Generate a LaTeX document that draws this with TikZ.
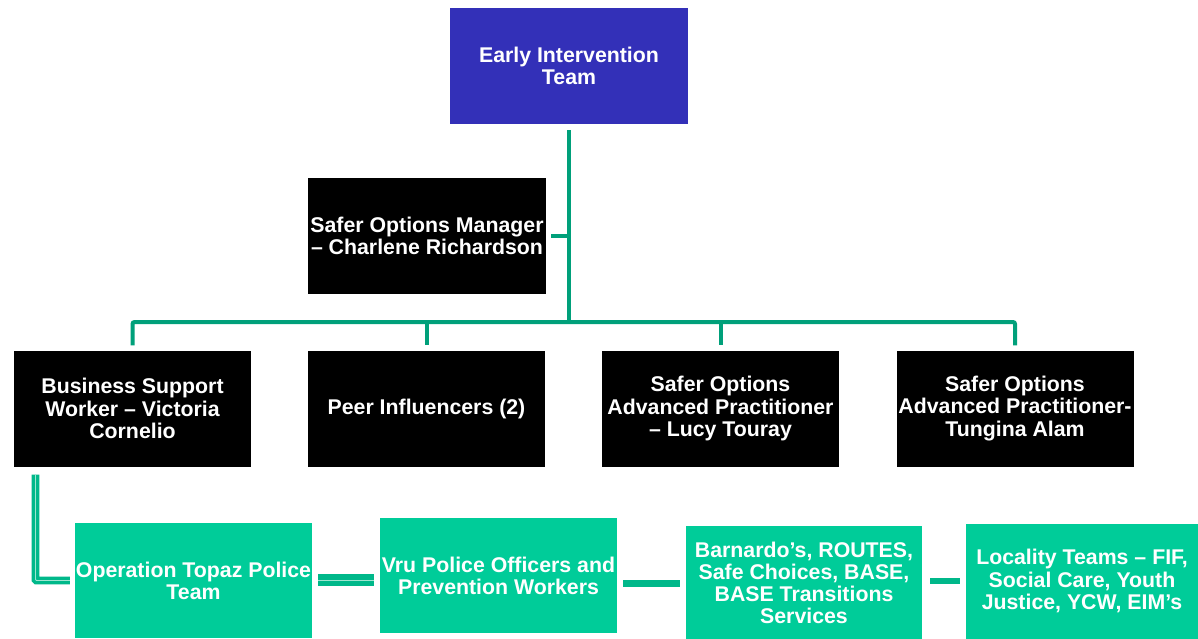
\documentclass[tikz,border=0pt]{standalone}
\usepackage{fontspec}
\setmainfont{Liberation Sans}
\usetikzlibrary{calc}
\definecolor{headblue}{HTML}{3330B8}
\definecolor{linkgreen}{HTML}{00A07A}
\definecolor{teamgreen}{HTML}{00CC99}
\definecolor{teamlink}{HTML}{00B88A}
\definecolor{teamlinklight}{HTML}{9FE6D0}
\tikzset{
  box/.style={minimum width=238pt, minimum height=116pt, inner sep=0pt,
    align=center, text=white,
    font=\fontsize{21.3}{22.2}\selectfont\bfseries},
  headbox/.style={box, fill=headblue},
  staffbox/.style={box, fill=black},
  teambox/.style={box, fill=teamgreen, minimum width=237pt, minimum height=115pt},
  conn/.style={draw=linkgreen, line width=4pt},
  teamconn/.style={draw=teamlink, line width=7pt},
  teamdouble/.style={draw=teamlink, line width=6pt, double=teamlinklight, double distance=0.8pt},
}
\begin{document}
\begin{tikzpicture}[x=1pt, y=-1pt]
\clip (0,0) rectangle (1198,638);
\fill[white] (0,0) rectangle (1198,638);

% management
\node[headbox]  (top) at (569,66)  {Early Intervention\\Team};
\node[staffbox] (mgr) at (427,236) {Safer Options Manager\\– Charlene Richardson};

% practitioners
\node[staffbox, minimum width=237pt] (bs)   at (132.5,408.5) {Business Support\\Worker – Victoria\\Cornelio};
\node[staffbox, minimum width=237pt] (peer) at (426.5,408.5) {Peer Influencers (2)};
\node[staffbox, minimum width=237pt] (ap1)  at (720.5,408.5) {Safer Options\\Advanced Practitioner\\– Lucy Touray};
\node[staffbox, minimum width=237pt] (ap2)  at (1015,408.5)  {Safer Options\\Advanced Practitioner-\\Tungina Alam};

% partner teams
\node[teambox] (topaz) at (193.5,580.5) {Operation Topaz Police\\Team};
\node[teambox] (vru)   at (498.5,575.5) {Vru Police Officers and\\Prevention Workers};
\node[teambox, minimum width=236pt, minimum height=114pt] (barn) at (804,583) {Barnardo’s, ROUTES,\\Safe Choices, BASE,\\BASE Transitions\\Services};
\node[teambox, minimum width=232pt] (loc) at (1082,581) {Locality Teams – FIF,\\Social Care, Youth\\Justice, YCW, EIM’s};

% reporting lines
\coordinate (trunk) at (569,322);
\draw[conn, shorten <=6pt] (top.south) -- (trunk);
\draw[conn, shorten <=5pt] (mgr.east) -- (mgr.east -| top.south);
\draw[conn, rounded corners=2pt, shorten <=5pt, shorten >=5pt]
  (bs.north) |- (trunk) -| (ap2.north);
\draw[conn, shorten >=5pt] (trunk -| peer.north) -- (peer.north);
\draw[conn, shorten >=5pt] (trunk -| ap1.north) -- (ap1.north);

% partnership links
\draw[teamdouble, line width=3.5pt, rounded corners=1pt]
  ([xshift=-97pt, yshift=-8pt]bs.south) |- ([xshift=-5pt]topaz.west);
\draw[teamdouble] ($(topaz.east)+(6,-0.5)$) -- ($(topaz.east -| vru.west)+(-6,-0.5)$);
\draw[teamconn] ($(vru.east |- barn.west)+(6,0.5)$) -- ($(barn.west)+(-6,0.5)$);
\draw[teamconn, line width=6pt] ($(barn.east |- loc.west)+(8,0)$) -- ($(loc.west)+(-6,0)$);
\end{tikzpicture}
\end{document}
